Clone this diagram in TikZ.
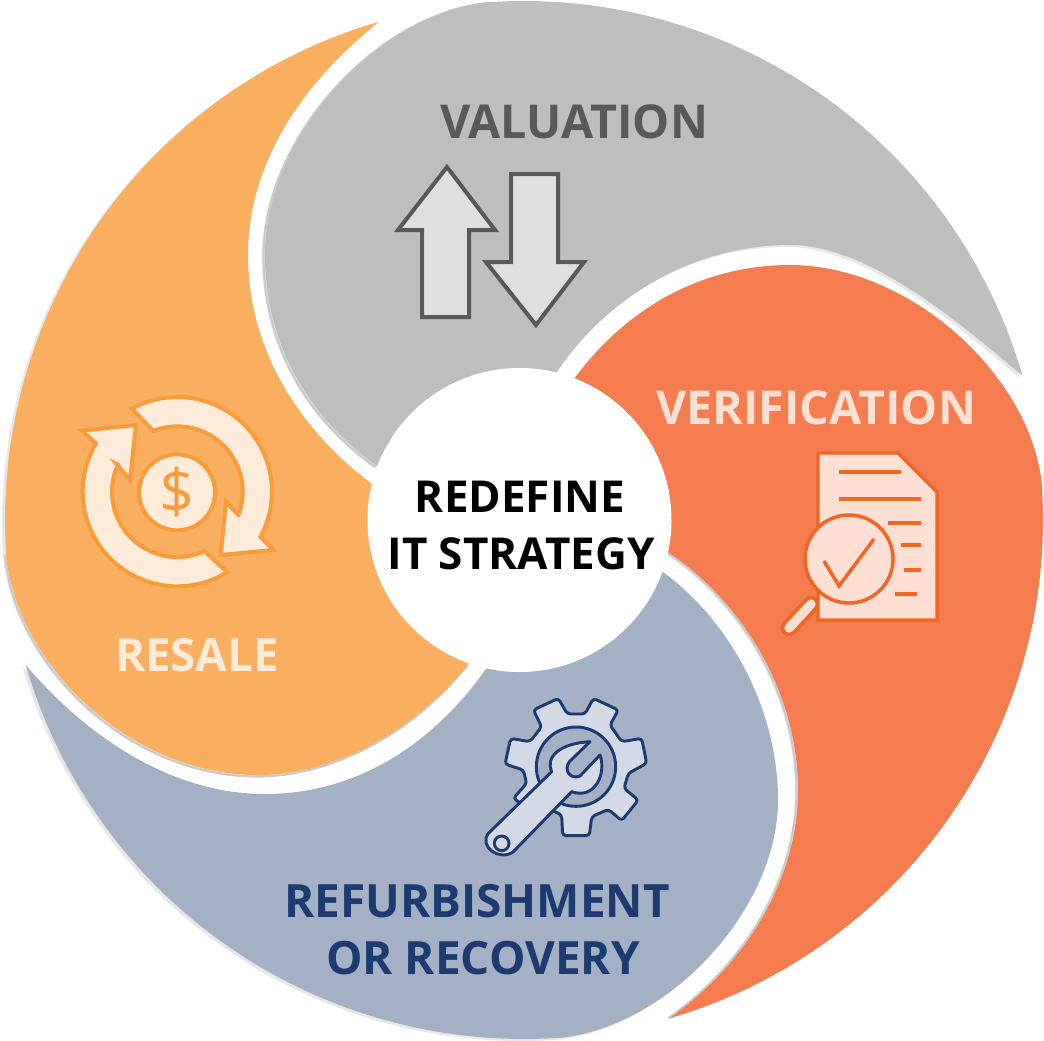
\documentclass[tikz,border=0pt]{standalone}
\usepackage{fontspec}
\setmainfont{Open Sans}
\definecolor{cGrey}{HTML}{BDBFBE}
\definecolor{cRed}{HTML}{F47C4E}
\definecolor{cOrange}{HTML}{F9AE60}
\definecolor{cBlue}{HTML}{A4B0C4}
\definecolor{cShadow}{HTML}{E6E7E7}
\definecolor{cShadowDark}{HTML}{C9CACA}
\definecolor{cDark}{HTML}{58595B}
\definecolor{cArrowFill}{HTML}{DFDFDF}
\definecolor{cRedLine}{HTML}{F26522}
\definecolor{cRedPale}{HTML}{FDDFD3}
\definecolor{cNavy}{HTML}{1C3B70}
\definecolor{cBluePale}{HTML}{D3DAE5}
\definecolor{cOrangeLine}{HTML}{F89C3B}
\definecolor{cOrangePale}{HTML}{FEEBD9}
\newcommand\outerarc[2]{-- plot[domain=#1:#2,samples=70] ({524+519*cos(\x)},{520-519*sin(\x)})}
\newcommand\edgeGrey{(377,466) .. controls (305,415) and (265,340) .. (265,255)
  .. controls (265,135) and (380,12) .. (490,2)}
\newcommand\bladeGrey{\edgeGrey \outerarc{93.75}{16.1}
  .. controls (940,305) and (860,245) .. (790,245)
  .. controls (690,245) and (605,300) .. (557,372) -- cycle}
\newcommand\edgeRed{(670,1018) .. controls (745,965) and (798,880) .. (798,790)
  .. controls (798,690) and (740,600) .. (668,552)}
\newcommand\bladeRed{(575,378) .. controls (625,310) and (700,265) .. (790,265)
  .. controls (910,265) and (1032,376) .. (1042,486) \outerarc{3.75}{-73.7}
  .. controls (745,965) and (798,880) .. (798,790)
  .. controls (798,690) and (740,600) .. (668,552) -- cycle}
\newcommand\bladeBlue{(663,572) .. controls (735,625) and (778,715) .. (778,800)
  .. controls (778,910) and (668,1028) .. (558,1038) \outerarc{-86.25}{-163.8}
  .. controls (85,735) and (170,794) .. (265,794)
  .. controls (365,794) and (440,735) .. (487,668) -- cycle}
\newcommand\edgeOrange{(469,663) .. controls (420,725) and (340,775) .. (258,775)
  .. controls (130,775) and (16,664) .. (6,554)}
\newcommand\bladeOrange{\edgeOrange \outerarc{183.75}{106.2}
  .. controls (300,85) and (248,165) .. (248,255)
  .. controls (248,350) and (300,430) .. (372,484) -- cycle}
\tikzset{
  bladeshadow/.style={fill=cShadow,shift={(-3,2)}},
  edgeshadow/.style={draw=cShadowDark,line width=1.6pt},
  txt/.style={font=\bfseries\fontsize{#1}{#1}\selectfont,inner sep=0pt},
  arrowicon/.style={draw=cDark,fill=cArrowFill,line width=3pt,miter limit=6},
  docicon/.style={draw=cRedLine,fill=cRedPale,line width=2.6pt},
  docline/.style={draw=cRedLine,line width=2.6pt},
  gearicon/.style={draw=cNavy,line width=2.2pt,line join=round},
  cycleicon/.style={draw=cOrangeLine,fill=cOrangePale,line width=3pt},
}
\begin{document}
\begin{tikzpicture}[x=0.75pt,y=-0.75pt]
\useasboundingbox (0,0) rectangle (1044,1040);
\clip (0,0) rectangle (1044,1040);
% blades
\fill[bladeshadow] \bladeGrey;
\draw[edgeshadow,shift={(-1.5,1)}] \edgeGrey;
\fill[cGrey] \bladeGrey;
\fill[bladeshadow] \bladeRed;
\draw[edgeshadow,shift={(-1.5,0)}] \edgeRed;
\fill[cRed] \bladeRed;
\fill[bladeshadow] \bladeBlue;
\fill[cBlue] \bladeBlue;
\fill[bladeshadow] \bladeOrange;
\draw[edgeshadow,shift={(-1,1.5)}] \edgeOrange;
\fill[cOrange] \bladeOrange;
% centre
\node[circle,fill=white,minimum size=228pt,inner sep=0pt] (centre) at (519.5,520) {};
\node[txt=33,text=black] (redefine) at (520,497) {REDEFINE};
\node[txt=33,text=black] (strategy) at (521,554) {IT STRATEGY};
% labels
\node[txt=35,text=cDark] (valuation) at (574,122) {VALUATION};
\node[txt=35,text=cRedPale] (verification) at (816,408) {VERIFICATION};
\node[txt=34.3,text=cOrangePale] (resale) at (197,655) {RESALE};
\node[txt=34.4,text=cNavy] (refurb) at (477,901) {REFURBISHMENT};
\node[txt=34.4,text=cNavy] (recovery) at (483,958) {OR RECOVERY};
% valuation arrows
\draw[arrowicon] (447,167) -- (495,230) -- (469,230) -- (469,317) -- (422,317) -- (422,230) -- (398,230) -- cycle;
\draw[arrowicon] (511,174) -- (558,174) -- (558,262) -- (584,262) -- (536,325) -- (486,262) -- (511,262) -- cycle;
% verification document
\draw[docicon] (818,453) -- (898,453) -- (937,492) -- (937,620) -- (818,620) -- cycle;
\draw[docline] (839,472) -- (901,472);
\draw[docline] (839,499) -- (921,499);
\draw[docline] (888,523) -- (921,523);
\draw[docline] (901,545) -- (921,545);
\draw[docline] (904,570) -- (921,570);
\draw[docline] (895,594) -- (917,594);
\draw[cRedLine,line width=12.5pt,line cap=round] (811,604) -- (789,628);
\draw[cRedPale,line width=7pt,line cap=round] (811,604) -- (789,628);
\draw[docicon] (849,559) circle[radius=44];
\draw[docline,fill=none] (824,561) -- (839,586) -- (874,539);
% gear and wrench
\begin{scope}[shift={(480,690)},x=0.25pt,y=-0.25pt]
\draw[gearicon,fill=cBluePale,rounded corners=2.5pt]
  (160,60) -- (235,25) -- (262,72) -- (315,72) -- (340,25) -- (415,60) -- (390,105)
  -- (425,155) -- (485,145) -- (500,220) -- (445,250) -- (432,295) -- (475,330)
  -- (425,392) -- (385,358) -- (335,380) -- (328,437) -- (248,437) -- (245,375)
  -- (195,350) -- (130,345) -- (100,325) -- (140,280) -- (130,240) -- (75,222) -- (92,145)
  -- (150,155) -- (185,110) -- cycle;
\draw[gearicon,fill=cBlue] (288,230) circle[radius=119];
\draw[gearicon,fill=cBluePale]
  (25,430) -- (215,245) .. controls (195,200) and (240,160) .. (330,155)
  -- (268,215) .. controls (250,240) and (270,270) .. (300,258) -- (360,195)
  .. controls (380,250) and (345,330) .. (275,305)
  -- (100,485) .. controls (60,515) and (-5,470) .. (25,430) -- cycle;
\draw[gearicon,fill=cBluePale] (65,460) circle[radius=22];
\end{scope}
% resale cycle
\begin{scope}[shift={(70,390)},x=0.25pt,y=-0.25pt]
\draw[cycleicon,line join=miter]
  plot[domain=118.7:-28.6,samples=50] ({322+284*cos(\x)},{305-284*sin(\x)})
  -- (610,480) -- (452,495) -- (468,335) -- (505,375)
  -- plot[domain=-20.9:111.5,samples=50] ({322+196*cos(\x)},{305-196*sin(\x)}) -- cycle;
\draw[cycleicon,line join=miter]
  plot[domain=-58.2:-210.7,samples=50] ({322+284*cos(\x)},{305-284*sin(\x)})
  -- (35,122) -- (198,105) -- (180,270) -- (140,222)
  -- plot[domain=-204.5:-65.3,samples=50] ({322+196*cos(\x)},{305-196*sin(\x)}) -- cycle;
\node[circle,draw=cOrangeLine,fill=cOrangePale,line width=3pt,minimum size=57pt,inner sep=0pt,
  font=\fontsize{46}{46}\selectfont,text=cOrangeLine] (dollar) at (321,307) {\$};
\end{scope}
\end{tikzpicture}
\end{document}
